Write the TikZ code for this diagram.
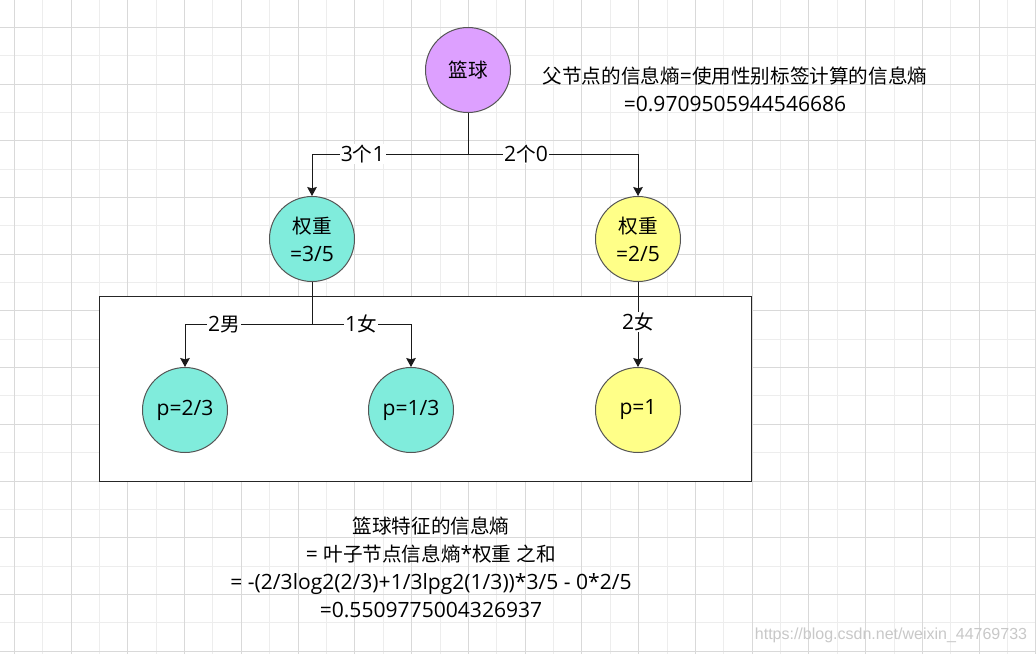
\documentclass[tikz,border=0pt]{standalone}
\usepackage{fontspec}
\setmainfont{Open Sans}
\newfontfamily\cjkfont{Noto Sans CJK SC}
\newfontfamily\wmfont{Liberation Sans}
\newcommand\zh[1]{{\cjkfont\fontsize{14.7}{21}\selectfont #1}}
\usetikzlibrary{arrows.meta}
\definecolor{gridA}{HTML}{D9D9D9}
\definecolor{gridB}{HTML}{EDEDED}
\definecolor{purp}{HTML}{DDA0FF}
\definecolor{tealc}{HTML}{80ECDC}
\definecolor{yel}{HTML}{FFFF88}
\definecolor{wm}{HTML}{C8C8C8}
\definecolor{edgec}{HTML}{1A1A1A}
\definecolor{circc}{HTML}{555555}
\tikzset{
  txt/.style={font=\fontsize{15.8}{21}\selectfont, text=black, align=center, inner sep=0pt},
  ball/.style={circle, draw=circc, line width=0.75pt, minimum size=63.75pt, inner sep=0pt, txt},
  arr/.style={draw=edgec, line width=0.75pt, -{Stealth[length=6.75pt,width=7.25pt,inset=1pt]}},
  plain/.style={draw=edgec, line width=0.75pt},
  lbl/.style={txt, fill=white, inner xsep=1pt, inner ysep=1pt},
  boxc/.style={draw=black!85, line width=0.75pt, fill=white, minimum width=489pt, minimum height=139pt, inner sep=0pt}
}
\begin{document}
\begin{tikzpicture}[x=0.75pt,y=-0.75pt]
\useasboundingbox (0,0) rectangle (1036,654);
\fill[white] (0,0) rectangle (1036,654);
% grid
\foreach \k in {1,3,...,35} {\draw[gridB, line width=0.75pt] ({14.3+28.38*\k},0) -- ({14.3+28.38*\k},654);}
\foreach \k in {1,3,...,21} {\draw[gridB, line width=0.75pt] (0,{27.3+28.36*\k}) -- (1036,{27.3+28.36*\k});}
\foreach \k in {0,2,...,36} {\draw[gridA, line width=0.75pt] ({14.3+28.38*\k},0) -- ({14.3+28.38*\k},654);}
\foreach \k in {0,2,...,22} {\draw[gridA, line width=0.75pt] (0,{27.3+28.36*\k}) -- (1036,{27.3+28.36*\k});}
% box
\node[boxc] (box) at (425.3,388.7) {};
% nodes
\node[ball, fill=purp] (top) at (468,70) {\zh{篮球}};
\node[ball, fill=tealc] (w1) at (312,239) {\zh{权重}\\=3/5};
\node[ball, fill=yel] (w2) at (638,239) {\zh{权重}\\=2/5};
\node[ball, fill=tealc] (p1) at (185,410) {p=2/3};
\node[ball, fill=tealc] (p2) at (411,410) {p=1/3};
\node[ball, fill=yel] (p3) at (638,410) {p=1};
% connectors
\coordinate (j1) at (468,154);
\coordinate (j2) at (312,324.3);
\draw[plain] (top.south) -- (j1);
\draw[arr] (j1) -| (w1.north);
\draw[arr] (j1) -| (w2.north);
\draw[plain] (w1.south) -- (j2);
\draw[arr] (j2) -| (p1.north);
\draw[arr] (j2) -| (p2.north);
\draw[arr] (w2.south) -- (p3.north);
% labels
\node[lbl] (l1) at (362.7,154) {3\zh{个}1};
\node[lbl] (l2) at (526,154) {2\zh{个}0};
\node[lbl] (l3) at (224,324.3) {2\zh{男}};
\node[lbl] (l4) at (361,324.3) {1\zh{女}};
\node[lbl] (l5) at (638,322) {2\zh{女}};
% texts
\node[txt] (t1) at (735,89) {\zh{父节点的信息熵}=\zh{使用性别标签计算的信息熵}\\=0.9709505944546686};
\node[txt] (t2) at (431,567) {\zh{篮球特征的信息熵}\\= \zh{叶子节点信息熵}*\zh{权重} \zh{之和}\\= -(2/3log2(2/3)+1/3lpg2(1/3))*3/5 - 0*2/5\\=0.5509775004326937};
\node[text=wm, font=\wmfont\fontsize{12}{14}\selectfont, inner sep=0pt] (wmk) at (891,635) {https://blog.csdn.net/weixin\_44769733};
\end{tikzpicture}
\end{document}
